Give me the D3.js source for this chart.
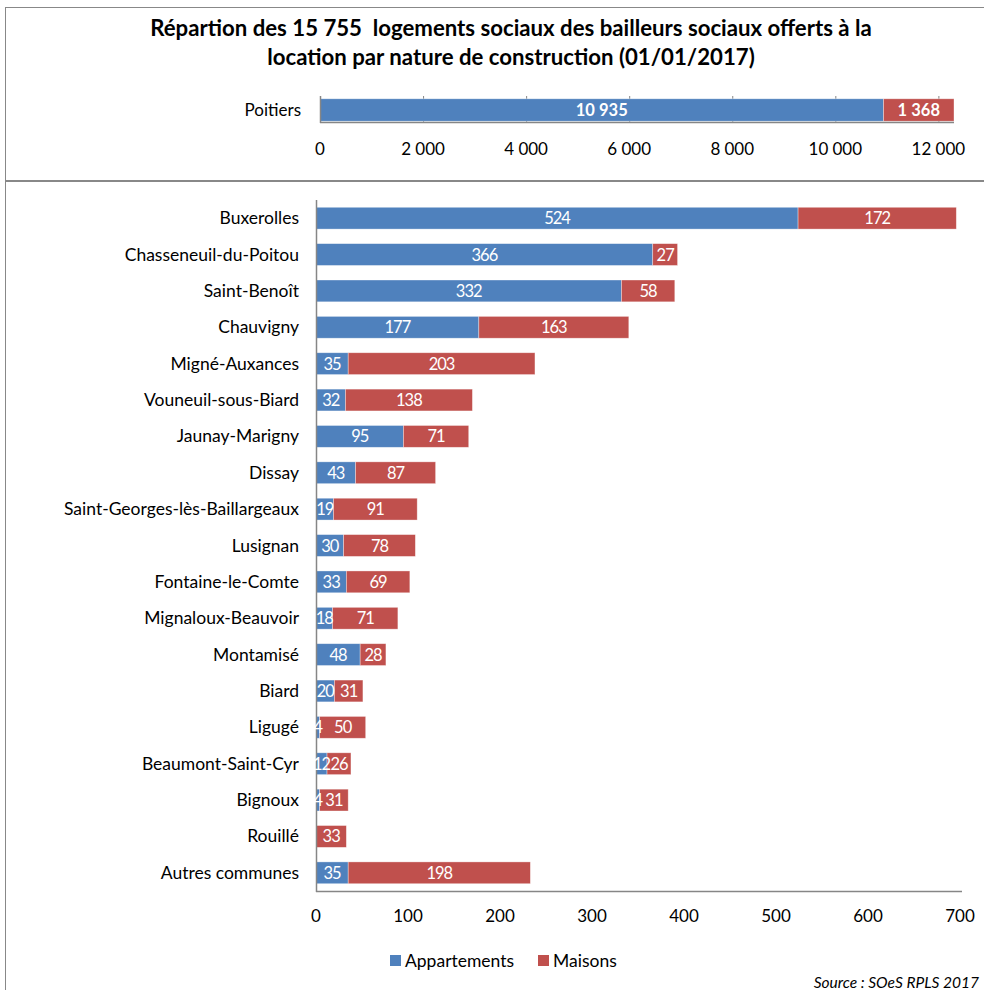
<!DOCTYPE html>
<html><head><meta charset="utf-8">
<script src="https://cdn.jsdelivr.net/npm/d3@7"></script>
<style>
body{margin:0;background:#fff;}
svg{display:block;font-family:Lato,"Open Sans",sans-serif;}
</style></head>
<body>
<svg id="c" width="984" height="990"></svg>
<script>
const titleLines = ["Répartion des 15 755  logements sociaux des bailleurs sociaux offerts à la", "location par nature de construction (01/01/2017)"];
const topCategory = ["Poitiers"];
const topAppartements = [10935];
const topMaisons = [1368];
const topTicks = [0, 2000, 4000, 6000, 8000, 10000, 12000];

const communes = ["Buxerolles","Chasseneuil-du-Poitou","Saint-Benoît","Chauvigny","Migné-Auxances","Vouneuil-sous-Biard","Jaunay-Marigny","Dissay","Saint-Georges-lès-Baillargeaux","Lusignan","Fontaine-le-Comte","Mignaloux-Beauvoir","Montamisé","Biard","Ligugé","Beaumont-Saint-Cyr","Bignoux","Rouillé","Autres communes"];
const appartements = [524,366,332,177,35,32,95,43,19,30,33,18,48,20,4,12,4,0,35];
const maisons = [172,27,58,163,203,138,71,87,91,78,69,71,28,31,50,26,31,33,198];
const bottomTicks = [0,100,200,300,400,500,600,700];
const seriesNames = ["Appartements","Maisons"];
const colors = ["#4F81BD","#C0504D"];
const sourceText = "Source : SOeS RPLS 2017";

const svg = d3.select("#c");
const fmt = v => d3.format(",")(v).replace(/,/g, "\u202F");
const axisCol = "#868686";
const FS = 17.5;

// panels
svg.append("rect").attr("x",5.5).attr("y",7.5).attr("width",990).attr("height",173).attr("fill","none").attr("stroke","#888");
svg.append("rect").attr("x",5.5).attr("y",181.5).attr("width",990).attr("height",830).attr("fill","none").attr("stroke","#888");

// title
svg.selectAll("text.title").data(titleLines).join("text")
  .attr("x",511).attr("y",(d,i)=>36+i*29).attr("text-anchor","middle")
  .style("white-space","pre")
  .attr("font-weight","bold").attr("font-size",22.2).attr("fill","#000").text(d=>d);

// ---- top chart
const xT = d3.scaleLinear().domain([0, 12303]).range([320, 954]);
const yT = d3.scaleBand().domain(topCategory).range([97,123]).paddingInner(0).paddingOuter(0.08);
const gT = svg.append("g");
gT.selectAll("line.tk").data(topTicks).join("line")
  .attr("x1",d=>xT(d)+0.5).attr("x2",d=>xT(d)+0.5).attr("y1",96).attr("y2",123).attr("stroke",axisCol);
const topData = topCategory.map((c,i)=>({c, vals:[topAppartements[i], topMaisons[i]]}));
const topLabels = [];
topData.forEach(d=>{
  let x0 = 0;
  d.vals.forEach((v,k)=>{
    gT.append("rect").attr("x",xT(x0)).attr("y",yT(d.c)).attr("width",xT(x0+v)-xT(x0)).attr("height",yT.bandwidth())
      .attr("fill",colors[k]).attr("stroke","#fff").attr("stroke-opacity",0.5).attr("stroke-width",0.7);
    topLabels.push({x:(xT(x0)+xT(x0+v))/2, y:yT(d.c)+yT.bandwidth()/2+6, v});
    x0 += v;
  });
});
gT.selectAll("text.dl").data(topLabels).join("text")
  .attr("x",d=>d.x).attr("y",d=>d.y).attr("text-anchor","middle").attr("fill","#fff")
  .attr("font-weight","bold").attr("font-size",16.5).attr("letter-spacing",-0.5).text(d=>fmt(d.v));
gT.append("line").attr("x1",320).attr("x2",954).attr("y1",122.5).attr("y2",122.5).attr("stroke",axisCol).attr("stroke-width",1.5);
gT.append("line").attr("x1",320.5).attr("x2",320.5).attr("y1",96).attr("y2",123).attr("stroke",axisCol).attr("stroke-width",1.5);
gT.selectAll("text.cat").data(topCategory).join("text")
  .attr("x",301).attr("y",d=>yT(d)+yT.bandwidth()/2+6).attr("text-anchor","end").attr("font-size",FS-0.5).text(d=>d);
gT.selectAll("text.tl").data(topTicks).join("text")
  .attr("x",d=>xT(d)).attr("y",155).attr("text-anchor","middle").attr("font-size",FS-0.5).text(d=>fmt(d));

// ---- bottom chart
const x = d3.scaleLinear().domain([0,700]).range([316,960]);
const y = d3.scaleBand().domain(communes).range([200,891]).paddingInner(0.4).paddingOuter(0.2);
const g = svg.append("g");
const rows = communes.map((c,i)=>({c, vals:[appartements[i], maisons[i]]}));
const labels = [];
rows.forEach(d=>{
  let x0 = 0;
  d.vals.forEach((v,k)=>{
    if (v>0) {
      g.append("rect").attr("x",x(x0)).attr("y",y(d.c)).attr("width",x(x0+v)-x(x0)).attr("height",y.bandwidth())
        .attr("fill",colors[k]).attr("stroke","#fff").attr("stroke-opacity",0.5).attr("stroke-width",0.7);
      labels.push({x:(x(x0)+x(x0+v))/2, y:y(d.c)+y.bandwidth()/2+6, v});
    }
    x0 += v;
  });
});
g.append("line").attr("x1",316.5).attr("x2",316.5).attr("y1",200).attr("y2",892).attr("stroke",axisCol).attr("stroke-width",1.5);
g.append("line").attr("x1",316).attr("x2",962).attr("y1",891.5).attr("y2",891.5).attr("stroke",axisCol).attr("stroke-width",1.5);
g.selectAll("text.dl").data(labels).join("text")
  .attr("x",d=>d.x).attr("y",d=>d.y).attr("text-anchor","middle").attr("fill","#fff")
  .attr("font-size",16.5).attr("letter-spacing",-1).text(d=>fmt(d.v));
g.selectAll("text.cat").data(communes).join("text")
  .attr("x",299).attr("y",d=>y(d)+y.bandwidth()/2+6).attr("text-anchor","end").attr("font-size",FS).text(d=>d);
g.selectAll("text.tl").data(bottomTicks).join("text")
  .attr("x",d=>x(d)).attr("y",922).attr("text-anchor","middle").attr("font-size",FS-0.5).text(d=>d);

// legend
const lg = svg.append("g");
const legX = [390, 538];
seriesNames.forEach((n,i)=>{
  lg.append("rect").attr("x",legX[i]).attr("y",955).attr("width",11).attr("height",11).attr("fill",colors[i]);
  lg.append("text").attr("x",legX[i]+15).attr("y",967).attr("font-size",FS).text(n);
});
svg.append("text").attr("x",979).attr("y",988).attr("text-anchor","end").attr("font-style","italic").attr("font-size",15.5).text(sourceText);
</script>
</body></html>
